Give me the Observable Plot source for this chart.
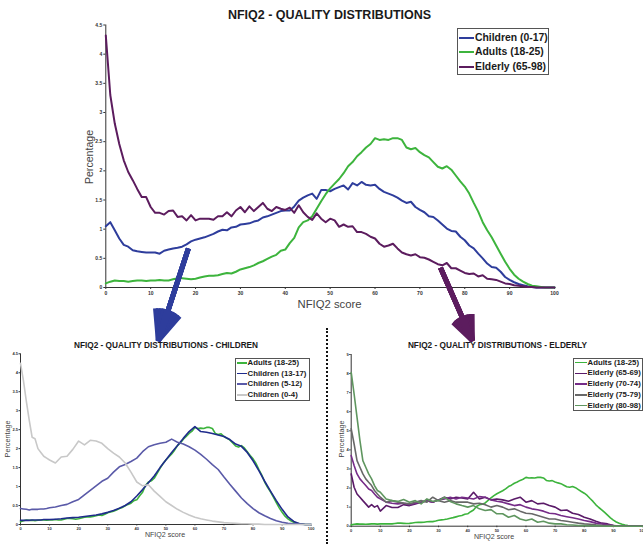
<!DOCTYPE html>
<html><head><meta charset="utf-8">
<script src="https://cdn.jsdelivr.net/npm/d3@7"></script>
<script src="https://cdn.jsdelivr.net/npm/@observablehq/plot@0.6"></script>
<style>
body{margin:0;background:#fff;font-family:"Liberation Sans",Arial,sans-serif;}
#root{position:relative;width:643px;height:544px;overflow:hidden;background:#fff;}
.abs{position:absolute;white-space:nowrap;line-height:1;}
.box{position:absolute;border:1px solid #555;background:#fff;box-sizing:border-box;}
</style></head>
<body><div id="root"></div>
<script>
// ---------- data ----------
const scores = d3.range(0, 101); // NFIQ2 score 0..100
const mainSeries = ["Children (0-17)", "Adults (18-25)", "Elderly (65-98)"];
const mainColors = ["#2e3d9c", "#3db43d", "#5c1c5e"];
const mainChildren = [1.05,1.12,0.98,0.84,0.73,0.70,0.64,0.62,0.61,0.60,
 0.60,0.60,0.58,0.63,0.65,0.67,0.68,0.70,0.74,0.79,
 0.82,0.84,0.86,0.89,0.92,0.96,0.99,0.98,1.03,1.04,
 1.08,1.09,1.10,1.13,1.15,1.20,1.22,1.25,1.28,1.31,
 1.32,1.32,1.39,1.49,1.54,1.58,1.61,1.52,1.67,1.67,
 1.65,1.69,1.72,1.75,1.68,1.79,1.75,1.81,1.76,1.75,
 1.76,1.69,1.64,1.61,1.58,1.54,1.49,1.45,1.47,1.38,
 1.33,1.29,1.22,1.21,1.15,1.08,1.01,0.97,0.96,0.87,
 0.81,0.72,0.67,0.58,0.50,0.41,0.35,0.34,0.27,0.18,
 0.13,0.09,0.06,0.04,0.02,0.01,0,0,0,0,
 0];
const mainAdults = [0.07,0.10,0.12,0.11,0.11,0.10,0.11,0.12,0.12,0.11,
 0.12,0.12,0.13,0.12,0.12,0.14,0.16,0.16,0.15,0.14,
 0.15,0.17,0.19,0.20,0.20,0.21,0.23,0.25,0.24,0.27,
 0.31,0.33,0.35,0.38,0.42,0.45,0.49,0.53,0.56,0.63,
 0.65,0.76,0.85,1.03,1.12,1.15,1.22,1.35,1.48,1.60,
 1.70,1.78,1.86,1.96,2.08,2.15,2.25,2.32,2.40,2.46,
 2.56,2.53,2.54,2.53,2.56,2.56,2.53,2.40,2.37,2.39,
 2.32,2.27,2.23,2.15,2.07,2.04,2.08,2.02,1.92,1.82,
 1.73,1.61,1.45,1.30,1.12,0.98,0.86,0.72,0.58,0.44,
 0.32,0.22,0.15,0.10,0.06,0.03,0.02,0.01,0,0,
 0];
const mainElderly = [4.32,3.30,2.81,2.46,2.18,1.98,1.84,1.69,1.55,1.55,
 1.38,1.28,1.28,1.25,1.31,1.32,1.21,1.22,1.15,1.24,
 1.15,1.18,1.18,1.18,1.16,1.22,1.22,1.29,1.22,1.32,
 1.38,1.29,1.39,1.31,1.38,1.45,1.35,1.31,1.38,1.35,
 1.33,1.37,1.28,1.41,1.29,1.21,1.16,1.27,1.18,1.12,
 1.18,1.15,1.04,1.08,1.04,1.05,0.95,0.95,0.92,0.87,
 0.84,0.75,0.70,0.72,0.75,0.67,0.60,0.57,0.55,0.57,
 0.52,0.51,0.48,0.44,0.40,0.38,0.42,0.33,0.33,0.29,
 0.25,0.23,0.24,0.19,0.21,0.15,0.14,0.13,0.10,0.07,
 0.06,0.04,0.03,0.02,0.01,0.01,0,0,0,0,
 0];

const subScores = [0,1,2,3,4,5,6,7,8,9,
 10,12,14,16,18,20,22,24,26,28,
 30,32,34,36,38,40,42,44,46,48,
 50,52,54,56,58,60,62,64,66,68,
 70,72,74,76,78,80,82,84,86,88,
 90,92,94,96,98,100];

const childSeries = ["Adults (18-25)", "Children (13-17)", "Children (5-12)", "Children (0-4)"];
const childColors = ["#3db43d", "#1f2b8c", "#5a5aa8", "#c8c8c8"];
const children1317 = [0.11,0.11,0.11,0.11,0.12,0.12,0.12,0.12,0.13,0.13,
 0.13,0.14,0.15,0.17,0.18,0.19,0.21,0.23,0.25,0.28,
 0.32,0.37,0.43,0.50,0.60,0.75,0.92,1.10,1.28,1.50,
 1.70,1.90,2.08,2.27,2.45,2.58,2.45,2.43,2.40,2.36,
 2.32,2.24,2.12,2.06,1.90,1.68,1.42,1.14,0.88,0.63,
 0.40,0.20,0.08,0.02,0,0];
const children512 = [0.42,0.41,0.40,0.38,0.40,0.40,0.40,0.41,0.41,0.42,
 0.44,0.46,0.50,0.53,0.60,0.66,0.78,0.90,1.02,1.14,
 1.22,1.38,1.52,1.58,1.66,1.75,1.92,2.05,2.10,2.14,
 2.17,2.25,2.17,2.12,2.05,1.96,1.85,1.72,1.58,1.45,
 1.25,1.06,0.88,0.70,0.55,0.42,0.31,0.23,0.16,0.10,
 0.06,0.03,0.02,0.01,0,0];
const children04 = [4.25,3.80,3.25,2.75,2.30,2.26,2.00,1.90,1.80,1.75,
 1.70,1.62,1.78,1.80,1.98,2.20,2.10,2.22,2.20,2.14,
 2.00,1.88,1.78,1.62,1.38,1.12,1.02,1.05,0.88,0.74,
 0.60,0.50,0.40,0.32,0.25,0.19,0.15,0.12,0.09,0.07,
 0.05,0.04,0.03,0.02,0.02,0.01,0.01,0,0,0,
 0,0,0,0,0,0];

const elderSeries = ["Adults (18-25)", "Elderly (65-69)", "Elderly (70-74)", "Elderly (75-79)", "Elderly (80-98)"];
const elderColors = ["#3db43d", "#5a1a68", "#762c88", "#686868", "#5f965f"];
const elderly6569 = [2.74,2.04,1.69,1.52,1.34,1.17,1.00,1.13,1.00,1.08,
 0.79,1.08,0.98,0.98,1.13,1.08,1.17,1.26,1.34,1.26,
 1.38,1.52,1.43,1.52,1.48,1.43,1.78,1.43,1.52,1.38,
 1.43,1.38,1.31,1.43,1.52,1.26,1.34,1.17,1.20,1.08,
 1.00,0.82,0.85,0.68,0.61,0.47,0.38,0.26,0.16,0.12,
 0.04,0,0,0,0,0];
const elderly7074 = [3.70,3.18,2.74,2.48,2.30,2.13,1.95,1.87,1.69,1.52,
 1.43,1.26,1.20,1.17,1.20,1.13,1.20,1.26,1.34,1.26,
 1.38,1.43,1.52,1.43,1.52,1.48,1.43,1.55,1.52,1.38,
 1.31,1.26,1.17,1.08,1.13,1.00,0.91,0.86,0.79,0.68,
 0.65,0.56,0.50,0.44,0.38,0.30,0.24,0.16,0.12,0.07,
 0.03,0,0,0,0,0];
const elderly7579 = [5.10,4.31,3.44,3.09,2.74,2.48,2.30,2.13,1.87,1.69,
 1.52,1.26,1.34,1.26,1.21,1.17,1.26,1.34,1.26,1.52,
 1.34,1.26,1.34,1.26,1.26,1.26,1.17,1.20,1.13,1.00,
 1.08,1.00,0.86,0.91,0.79,0.68,0.65,0.56,0.47,0.38,
 0.38,0.30,0.26,0.21,0.16,0.12,0.10,0.07,0.05,0.04,
 0.03,0.01,0,0,0,0];
const elderly8098 = [8.06,6.93,5.70,4.49,3.44,3.09,2.74,2.48,2.13,1.87,
 1.78,1.43,1.34,1.30,1.40,1.26,1.34,1.17,1.43,1.30,
 1.34,1.52,1.30,1.17,1.08,1.00,1.08,0.91,0.82,0.87,
 0.65,0.65,0.47,0.56,0.38,0.30,0.38,0.21,0.26,0.16,
 0.12,0.12,0.08,0.06,0.04,0.03,0.02,0.02,0.01,0,
 0,0,0,0,0,0];

const xTicks = [0,10,20,30,40,50,60,70,80,90,100];
const yTicksHalf = [0,0.5,1,1.5,2,2.5,3,3.5,4,4.5];
const yTicksElder = [0,1,2,3,4,5,6,7,8,9];

// arrows linking the overview to the two detail panels (score / percentage units)
const arrows = [
  {series: "Children (0-17)", x1: 18.4, y1: 0.67, x2: 11.7, y2: -0.91},
  {series: "Elderly (65-98)", x1: 74.6, y1: 0.34, x2: 81.7, y2: -0.91}
];
const arrowHeadAngles = [46, 36, 26, 16, 6]; // fan of head strokes fills the arrowhead

// ---------- helpers ----------
const long = (series, xs, ys) => xs.map((x, i) => ({series, score: x, pct: ys[i]}));
const root = document.getElementById("root");
function place(node, left, top, z) {
  node.style.position = "absolute"; node.style.left = left + "px"; node.style.top = top + "px";
  if (z) node.style.zIndex = z;
  root.appendChild(node);
}
function text(str, cx, cy, size, opts = {}) {
  const d = document.createElement("div");
  d.className = "abs";
  d.textContent = str;
  d.style.left = cx + "px"; d.style.top = cy + "px";
  d.style.fontSize = size + "px";
  d.style.fontWeight = opts.bold ? "bold" : "normal";
  d.style.color = opts.color || "#222";
  d.style.transform = "translate(-50%,-50%)" + (opts.rotate ? " rotate(-90deg)" : "");
  d.style.zIndex = 3;
  root.appendChild(d);
}
function legend(box, rows, names, colors, lineX1, lineX2, textX, size, lw) {
  const b = document.createElement("div");
  b.className = "box";
  Object.assign(b.style, {left: box[0] + "px", top: box[1] + "px", width: box[2] + "px", height: box[3] + "px", zIndex: 3});
  root.appendChild(b);
  names.forEach((n, i) => {
    const l = document.createElement("div");
    Object.assign(l.style, {position: "absolute", left: lineX1 + "px", top: (rows[i] - lw / 2) + "px",
      width: (lineX2 - lineX1) + "px", height: lw + "px", background: colors[i], zIndex: 4});
    root.appendChild(l);
    const t = document.createElement("div");
    t.className = "abs";
    t.textContent = n;
    Object.assign(t.style, {left: textX + "px", top: rows[i] + "px", fontSize: size + "px", fontWeight: "bold",
      color: "#1a1a1a", transform: "translateY(-50%)", zIndex: 4});
    root.appendChild(t);
  });
}
const axisStyle = (fs) => ({fontSize: fs, fontWeight: "bold"});

// ---------- lower panels ----------
const childData = [
  ...long(childSeries[0], scores, mainAdults),
  ...long(childSeries[1], subScores, children1317),
  ...long(childSeries[2], subScores, children512),
  ...long(childSeries[3], subScores, children04)
];
const childPlot = Plot.plot({
  width: 330, height: 214,
  marginLeft: 20, marginRight: 19.3, marginTop: 23.3, marginBottom: 20,
  x: {domain: [0, 100]},
  y: {domain: [0, 4.5]},
  color: {domain: childSeries, range: childColors},
  style: {background: "transparent", color: "#333", fontFamily: "Liberation Sans, Arial, sans-serif"},
  marks: [
    Plot.axisX({ticks: xTicks, tickSize: 1.5, tickPadding: 1.5, label: null, tickFormat: d => `${d}`, ...axisStyle(4)}),
    Plot.axisY({ticks: yTicksHalf, tickSize: 1.5, tickPadding: 1, label: null, tickFormat: d => `${d}`, ...axisStyle(4)}),
    Plot.ruleX([0], {stroke: "#333"}),
    Plot.ruleY([0], {stroke: "#333"}),
    Plot.line(childData, {x: "score", y: "pct", stroke: "series", strokeWidth: 1.6})
  ]
});
place(childPlot, 0, 330, 1);

const elderData = [
  ...long(elderSeries[0], scores, mainAdults),
  ...long(elderSeries[1], subScores, elderly6569),
  ...long(elderSeries[2], subScores, elderly7074),
  ...long(elderSeries[3], subScores, elderly7579),
  ...long(elderSeries[4], subScores, elderly8098)
];
const elderPlot = Plot.plot({
  width: 313, height: 214,
  marginLeft: 20.7, marginRight: 1, marginTop: 24, marginBottom: 18.3,
  x: {domain: [0, 100]},
  y: {domain: [0, 9]},
  color: {domain: elderSeries, range: elderColors},
  style: {background: "transparent", color: "#333", fontFamily: "Liberation Sans, Arial, sans-serif"},
  marks: [
    Plot.axisX({ticks: xTicks, tickSize: 1.5, tickPadding: 1.5, label: null, tickFormat: d => `${d}`, ...axisStyle(4)}),
    Plot.axisY({ticks: yTicksElder, tickSize: 1.5, tickPadding: 1, label: null, tickFormat: d => `${d}`, ...axisStyle(4)}),
    Plot.ruleX([0], {stroke: "#333"}),
    Plot.ruleY([0], {stroke: "#333"}),
    Plot.line(elderData, {x: "score", y: "pct", stroke: "series", strokeWidth: 1.6})
  ]
});
place(elderPlot, 330, 330, 1);

// ---------- main panel ----------
const mainData = [
  ...long(mainSeries[0], scores, mainChildren),
  ...long(mainSeries[1], scores, mainAdults),
  ...long(mainSeries[2], scores, mainElderly)
];
const mainPlot = Plot.plot({
  width: 643, height: 345,
  marginLeft: 105.3, marginRight: 89, marginTop: 24.5, marginBottom: 58,
  x: {domain: [0, 100]},
  y: {domain: [0, 4.5]},
  color: {domain: mainSeries, range: mainColors},
  style: {background: "transparent", color: "#333", fontFamily: "Liberation Sans, Arial, sans-serif"},
  marks: [
    Plot.axisX({ticks: xTicks, tickSize: 2, tickPadding: 2, label: null, tickFormat: d => `${d}`, ...axisStyle(5)}),
    Plot.axisY({ticks: yTicksHalf, tickSize: 2, tickPadding: 1.5, label: null, tickFormat: d => `${d}`, ...axisStyle(5)}),
    Plot.ruleX([0], {stroke: "#333"}),
    Plot.ruleY([0], {stroke: "#333"}),
    Plot.line(mainData, {x: "score", y: "pct", stroke: "series", strokeWidth: 2}),
    ...arrowHeadAngles.map(a => Plot.arrow(arrows, {x1: "x1", y1: "y1", x2: "x2", y2: "y2", stroke: "series",
      strokeWidth: 5, headLength: 14, headAngle: a, strokeLinejoin: "miter", strokeLinecap: "butt"}))
  ]
});
place(mainPlot, 0, 0, 2);

// ---------- texts ----------
text("NFIQ2 - QUALITY DISTRIBUTIONS", 329.5, 15, 12.5, {bold: true, color: "#1a1a1a"});
text("NFIQ2 score", 329.5, 305, 11.3, {color: "#444"});
text("Percentage", 89, 157, 10.6, {color: "#444", rotate: true});
legend([457, 28, 92, 47], [37.8, 52.3, 66.8], mainSeries, mainColors, 459, 474, 475, 10.4, 2);

text("NFIQ2 - QUALITY DISTRIBUTIONS - CHILDREN", 166, 346, 8.25, {bold: true, color: "#1a1a1a"});
text("NFIQ2 score", 165, 535.5, 7.1, {color: "#444"});
text("Percentage", 8, 439, 7.2, {color: "#444", rotate: true});
legend([235, 358, 75, 43], [363, 373.6, 384.2, 394.8], childSeries, childColors, 237, 247, 247.5, 7.8, 1.5);

text("NFIQ2 - QUALITY DISTRIBUTIONS - ELDERLY", 497.5, 346, 8.25, {bold: true, color: "#1a1a1a"});
text("NFIQ2 score", 494, 538, 7.1, {color: "#444"});
text("Percentage", 342, 439, 7.2, {color: "#444", rotate: true});
legend([573, 358, 70, 53], [362.7, 373.4, 384.1, 394.8, 405.5], elderSeries, elderColors, 575, 587, 587.5, 7.8, 1.5);

// dotted divider
const div = document.createElement("div");
Object.assign(div.style, {position: "absolute", left: "326px", top: "328px", height: "216px", width: "0px",
  borderLeft: "2px dotted #111", zIndex: 3});
root.appendChild(div);
</script>
</body></html>
